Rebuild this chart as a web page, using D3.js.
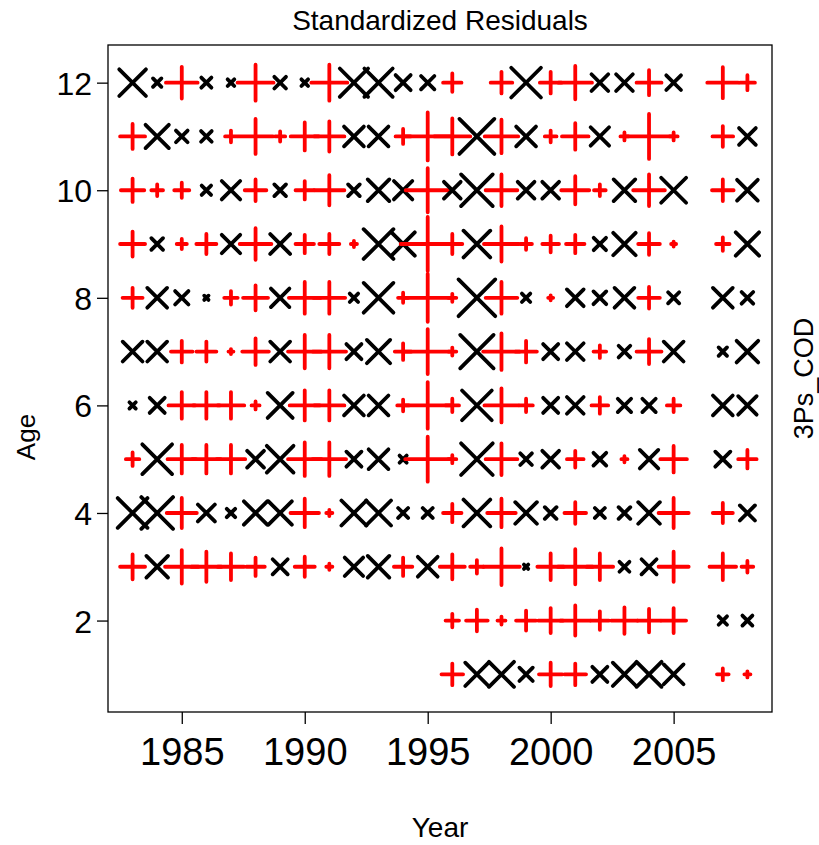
<!DOCTYPE html>
<html>
<head>
<meta charset="utf-8">
<script src="https://cdn.jsdelivr.net/npm/d3@7/dist/d3.min.js"></script>
<style>
  html, body { margin: 0; padding: 0; background: #fff; }
  svg { display: block; font-family: "Liberation Sans", Arial, sans-serif; }
</style>
</head>
<body>
<svg id="chart" width="819" height="845"></svg>
<script>
// Survey years and ages
const years = [1983, 1984, 1985, 1986, 1987, 1988, 1989, 1990, 1991, 1992, 1993, 1994, 1995,
               1996, 1997, 1998, 1999, 2000, 2001, 2002, 2003, 2004, 2005, 2006, 2007, 2008];
const ages = [1, 2, 3, 4, 5, 6, 7, 8, 9, 10, 11, 12];
const yearTicks = [1985, 1990, 1995, 2000, 2005];
const ageTicks = [2, 4, 6, 8, 10, 12];

// Standardized residuals by age, one value per year (null = no observation)
const age1  = [null, null, null, null, null, null, null, null, null, null, null, null, null,
               1.35, -2.06, -2.21, -1.18, 1.46, 1.35, -1.33, -2.06, -2.21, -1.75, null, 0.73, 0.38];
const age2  = [null, null, null, null, null, null, null, null, null, null, null, null, null,
               0.84, 1.35, 0.50, 1.25, 1.56, 1.88, 1.15, 1.66, 1.46, 1.56, null, -0.74, -0.88];
const age3  = [1.56, -1.91, 2.09, 1.88, 1.66, 1.15, -1.33, 1.25, 0.38, -1.63, -1.91, 1.15, -1.75,
               1.56, 0.84, 2.29, -0.38, 1.66, 2.19, 1.66, -0.88, -1.33, 1.88, null, 1.66, 0.73];
const age4  = [-2.63, -2.80, 1.88, -1.50, -0.74, -2.06, -2.06, 1.78, 0.38, -2.21, -2.21, -0.88, -0.88,
               1.15, -2.36, 1.78, -1.91, -1.03, 1.35, -0.88, -1.03, -1.91, 1.88, null, 1.25, -1.33];
const age5  = [0.84, -2.63, 1.78, 1.78, 1.78, -1.48, -2.36, 2.09, 2.09, -1.33, -1.75, -0.63, 2.81,
               0.50, -2.80, 1.98, -1.03, -1.48, 1.04, -1.13, 0.38, -1.63, 1.66, null, -1.33, 1.15];
const age6  = [-0.56, -1.33, 1.66, 1.66, 1.66, 0.50, -2.21, 1.88, 1.88, -1.75, -1.75, 0.73, 2.91,
               0.84, -2.63, 2.13, 0.84, -1.33, -1.48, 1.04, -1.18, -1.18, 0.84, null, -1.75, -1.63];
const age7  = [-1.75, -1.75, 1.35, 1.25, 0.31, 1.66, -1.75, 2.09, 2.09, -1.33, -2.06, 1.04, 2.81,
               0.50, -2.95, 2.29, 1.35, -1.33, -1.48, 0.79, -1.03, 1.56, -1.75, null, -0.74, -1.91];
const age8  = [1.25, -1.75, -1.18, -0.38, 0.84, 1.56, -1.63, 1.98, 1.98, -0.74, -2.63, 0.63, 3.00,
               0.50, -3.25, 1.98, -0.74, 0.31, -1.48, -1.13, -1.75, 1.35, -0.98, null, -1.75, -1.03];
const age9  = [1.56, -1.03, 0.63, 1.25, -1.63, 1.98, -1.75, 1.15, 1.25, 0.38, -2.63, -2.06, 3.38,
               1.25, -2.36, 2.19, 0.73, 1.04, 1.15, -1.09, -1.98, 1.35, 0.31, null, 0.84, -2.06];
const age10 = [1.46, 0.73, 0.94, -0.83, -1.63, 1.35, -1.03, 1.15, 1.88, -1.03, -1.91, -1.63, 2.75,
               -1.48, -2.80, 1.98, -1.48, -1.48, 1.75, 0.73, -1.91, 1.98, -2.21, null, 1.35, -1.83];
const age11 = [1.56, -2.06, -1.03, -0.94, 0.73, 2.19, 0.63, 1.75, 1.88, -1.75, -1.75, 0.94, 3.00,
               2.25, -3.09, 2.09, -1.75, 0.73, 1.66, -1.63, 0.50, 2.81, 0.50, null, 1.29, -1.48];
const age12 = [-2.36, -0.74, 1.98, -0.89, -0.59, 2.25, -1.03, -0.59, 2.25, -2.50, -2.50, -1.33, -1.18,
               1.15, null, 1.35, -2.63, 1.35, 2.09, -1.48, -1.48, 1.56, -1.30, null, 1.94, 0.94];

const residualRows = [age1, age2, age3, age4, age5, age6, age7, age8, age9, age10, age11, age12];

const cells = [];
residualRows.forEach((row, i) => {
  row.forEach((v, j) => {
    if (v !== null) cells.push({ year: years[j], age: ages[i], value: v });
  });
});

const svg = d3.select("#chart");
svg.append("rect").attr("width", 819).attr("height", 845).attr("fill", "#fff");

const plot = { left: 108, right: 772, top: 45, bottom: 712 };

const x = d3.scaleLinear().domain([1982, 2009]).range([plot.left, plot.right]);
const y = d3.scaleLinear().domain([0.3, 12.7]).range([plot.bottom, plot.top]);
// symbol arm half-length proportional to |residual|
const size = d3.scaleLinear().domain([0, 1]).range([0, 8]);

// residual symbols: red "+" for positive, black "x" for negative
const sym = svg.append("g")
  .attr("fill", "none")
  .attr("stroke-width", 3.8)
  .attr("stroke-linecap", "round");

sym.selectAll("path")
  .data(cells)
  .join("path")
  .attr("stroke", d => d.value > 0 ? "#ff0000" : "#000000")
  .attr("d", d => {
    const cx = x(d.year), cy = y(d.age), r = size(Math.abs(d.value));
    if (d.value > 0) {
      return `M${cx - r},${cy}H${cx + r}M${cx},${cy - r}V${cy + r}`;
    }
    const h = r / Math.SQRT2;
    return `M${cx - h},${cy - h}L${cx + h},${cy + h}M${cx - h},${cy + h}L${cx + h},${cy - h}`;
  });

// plot frame
svg.append("rect")
  .attr("x", plot.left).attr("y", plot.top)
  .attr("width", plot.right - plot.left).attr("height", plot.bottom - plot.top)
  .attr("fill", "none").attr("stroke", "#000").attr("stroke-width", 1.3);

// axes
const xAxis = svg.append("g")
  .attr("transform", `translate(0,${plot.bottom})`)
  .call(d3.axisBottom(x).tickValues(yearTicks).tickFormat(d3.format("d")).tickSize(12).tickPadding(14));
const yAxis = svg.append("g")
  .attr("transform", `translate(${plot.left},0)`)
  .call(d3.axisLeft(y).tickValues(ageTicks).tickSize(11).tickPadding(5));

[xAxis, yAxis].forEach(g => {
  g.select(".domain").remove();
  g.selectAll(".tick line").attr("stroke", "#000").attr("stroke-width", 1.3);
  g.selectAll(".tick text")
    .attr("fill", "#000")
    .style("font-family", "'Liberation Sans', Arial, sans-serif");
});
xAxis.selectAll(".tick text").style("font-size", "38px");
yAxis.selectAll(".tick text").style("font-size", "32px").attr("dy", "0.36em");

// titles
svg.append("text")
  .attr("x", (plot.left + plot.right) / 2).attr("y", 30)
  .attr("text-anchor", "middle").style("font-size", "28px")
  .text("Standardized Residuals");

svg.append("text")
  .attr("x", (plot.left + plot.right) / 2).attr("y", 837)
  .attr("text-anchor", "middle").style("font-size", "28px")
  .text("Year");

svg.append("text")
  .attr("transform", `translate(35,437) rotate(-90)`)
  .attr("text-anchor", "middle").style("font-size", "26px")
  .text("Age");

svg.append("text")
  .attr("transform", `translate(813,${(plot.top + plot.bottom) / 2}) rotate(-90)`)
  .attr("text-anchor", "middle").style("font-size", "27px")
  .text("3Ps_COD");
</script>
</body>
</html>
